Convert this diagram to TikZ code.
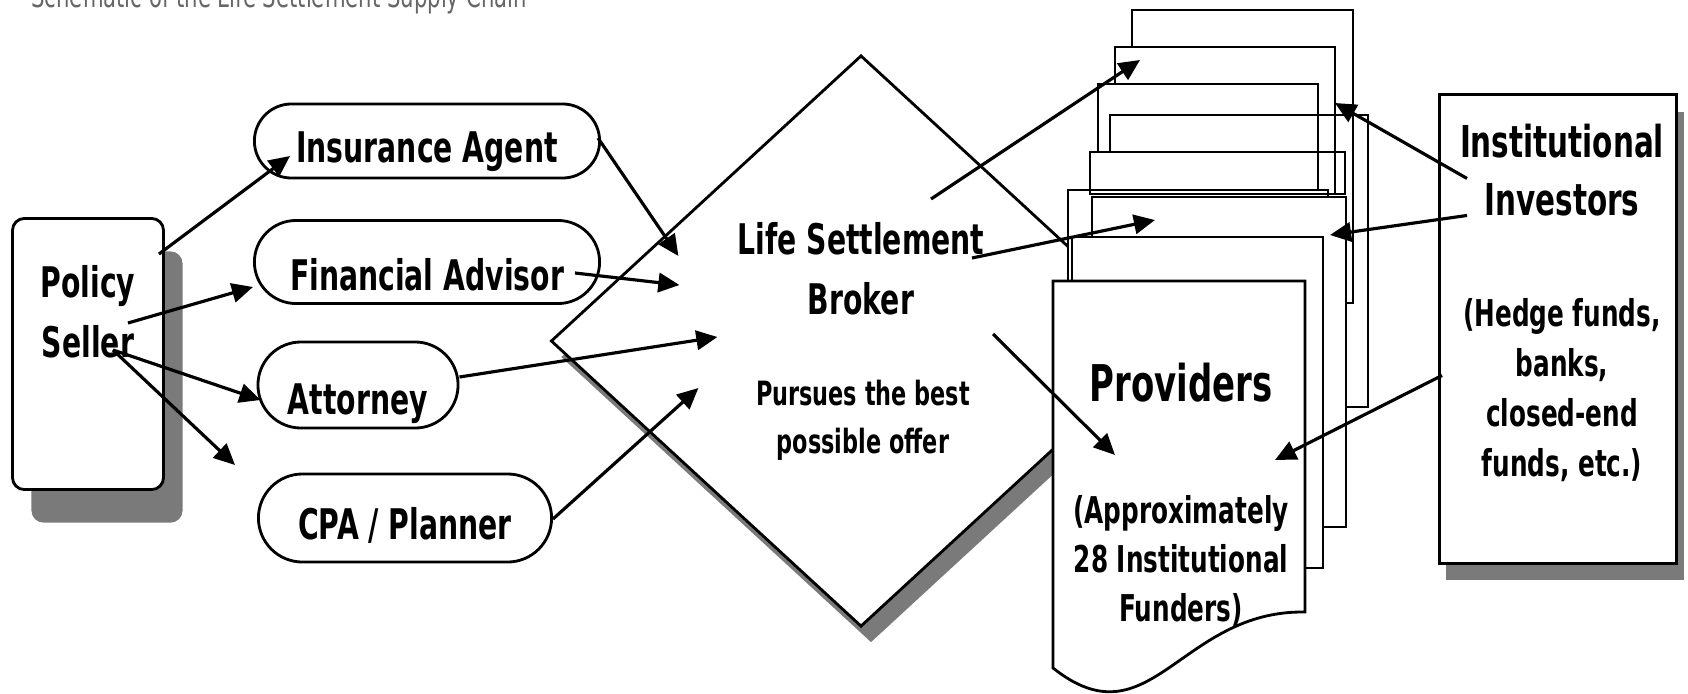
\documentclass[tikz,border=0pt]{standalone}
\usepackage{fontspec}
\setmainfont{DejaVu Sans}[FakeStretch=0.67]
\usetikzlibrary{arrows.meta, shapes.geometric, shapes.misc, shadows, positioning}

% text sits a little low inside the channel ovals
\newcommand{\lowered}[2]{\raisebox{-#1}[\height][\depth]{#2}}

\begin{document}
\begin{tikzpicture}[
      x=.01cm, y=-.01cm,
      every path/.style={line width=.8pt},
      every node/.style={font={\bfseries\fontsize{12}{17}\selectfont}, align=center, inner sep=0pt},
      flow/.style={-{Triangle[length=6pt, width=5.5pt]}, line width=.9pt},
      channel/.style={draw, fill=white, rounded rectangle, minimum height=#1},
      greyshade/.style 2 args={drop shadow={shadow xshift=#1, shadow yshift=#2, fill=black!52, opacity=1}}
    ]
    \useasboundingbox (0,0) rectangle (1688,694);

    % title, cut off by the top border
    \node[anchor=base west, font={\fontsize{9}{11}\selectfont}, text=black!60] (title) at (30,8)
        {Schematic of the Life Settlement Supply Chain};

    % broker diamond goes first, the rest lies on top of it
    \node[draw, diamond, fill=white, minimum width=6.2cm, minimum height=5.71cm,
          greyshade={.1cm}{-.16cm}] (broker) at (861,341) {};
    \node (broker-name) at (861,269) {Life Settlement\\Broker};
    \node[font={\bfseries\fontsize{9.5}{13.6}\selectfont}] (broker-note) at (863,420)
        {Pursues the best\\possible offer};

    % seller
    \node[draw, fill=white, rounded corners=.12cm, minimum width=1.51cm, minimum height=2.71cm,
          greyshade={.19cm}{-.33cm}] (seller) at (88,354) {};
    \node (seller-txt) at (88,312) {Policy\\Seller};

    % channels
    \node[channel=.74cm, minimum width=3.45cm] (agent)    at (427,141) {\lowered{3pt}{Insurance Agent}};
    \node[channel=.83cm, minimum width=3.45cm] (advisor)  at (427,262) {\lowered{3.5pt}{Financial Advisor}};
    \node[channel=.86cm, minimum width=2.0cm]  (attorney) at (358,385) {\lowered{5.4pt}{Attorney}};
    \node[channel=.88cm, minimum width=2.93cm] (cpa)      at (405,518) {\lowered{2pt}{CPA / Planner}};

    % stack of provider sheets, back to front
    \begin{scope}
        \foreach \n/\xl/\yl/\yt/\xr/\yb/\xs in {1/1132/47/10/1353/303/1347,
                                               2/1115/84/47/1335/193/1335,
                                               3/1098/152/84/1318/192/1318,
                                               4/1110/152/115/1368/407/1347}
            \draw (\xl,\yl) -- (\xl,\yt) coordinate (s\n-nw) -- (\xr,\yt) coordinate (s\n-ne)
                  -- (\xr,\yb) -- (\xs,\yb);
        \draw[fill=white] (1068,190) rectangle (1328,300);
        \draw (1090,152) rectangle (1345,194);
        \draw[fill=white] (1092,197) coordinate (s7-nw) rectangle (1346,527);
        \coordinate (s7-ne) at (1346,197);
        \draw[fill=white] (1072,237) rectangle (1323,568);
        % front sheet with the wavy foot
        \draw[fill=white] (1053,281) coordinate (front-nw) -- (1305,281) coordinate (front-ne) -- (1305,612)
              .. controls (1180,610) and (1150,745) .. (1053,668) -- cycle;
    \end{scope}
    \node[font={\bfseries\fontsize{14.4}{17}\selectfont}] (prov-title) at (1181,383) {Providers};
    \node[font={\bfseries\fontsize{10.5}{13.9}\selectfont}] (prov-note) at (1181,561)
        {(Approximately\\28 Institutional\\Funders)};

    % investors
    \node[draw, fill=white, minimum width=2.37cm, minimum height=4.68cm,
          greyshade={.07cm}{-.17cm}] (investors) at (1558,329) {};
    \node[font={\bfseries\fontsize{12.5}{16.4}\selectfont}] (inv-name) at (1562,170) {Institutional\\Investors};
    \node[font={\bfseries\fontsize{10.5}{14.2}\selectfont}] (inv-note) at (1562,390)
        {(Hedge funds,\\banks,\\closed-end\\funds, etc.)};

    % seller to channels
    \coordinate (fork) at ([shift={(25,-4)}]seller.center);
    \coordinate (stray) at (235,465);
    \draw[flow] ([shift={(-6,37)}]seller.north east) -- ([shift={(37,15)}]agent.west);
    \draw[flow] ([shift={(-37,-31)}]seller.east) -- ([shift={(0,25)}]advisor.west);
    \draw[flow] (fork) -- ([shift={(4,15)}]attorney.west);
    \draw[flow] (fork) -- (stray);

    % channels to broker
    \draw[flow] ([shift={(-3,-3)}]agent.east) -- ([shift={(129,-85)}]broker.west);
    \draw[flow] ([shift={(-26,11)}]advisor.east) -- ([shift={(130,-56)}]broker.west);
    \draw[flow] ([shift={(0,-8)}]attorney.east) -- ([shift={(168,-4)}]broker.west);
    \draw[flow] ([shift={(0,1)}]cpa.east) -- ([shift={(149,47)}]broker.west);

    % broker to providers
    \draw[flow] ([shift={(70,-142)}]broker.center) -- ([shift={(25,13)}]s2-nw);
    \draw[flow] ([shift={(111,-83)}]broker.center) -- ([shift={(63,23)}]s7-nw);
    \draw[flow] ([shift={(132,-7)}]broker.center) -- ([shift={(62,174)}]front-nw);

    % investors to providers
    \draw[flow] ([shift={(29,85)}]investors.north west) -- ([shift={(0,56)}]s2-ne);
    \draw[flow] ([shift={(29,122)}]investors.north west) -- ([shift={(-16,38)}]s7-ne);
    \draw[flow] ([shift={(4,282)}]investors.north west) -- ([shift={(-30,179)}]front-ne);

\end{tikzpicture}
\end{document}
